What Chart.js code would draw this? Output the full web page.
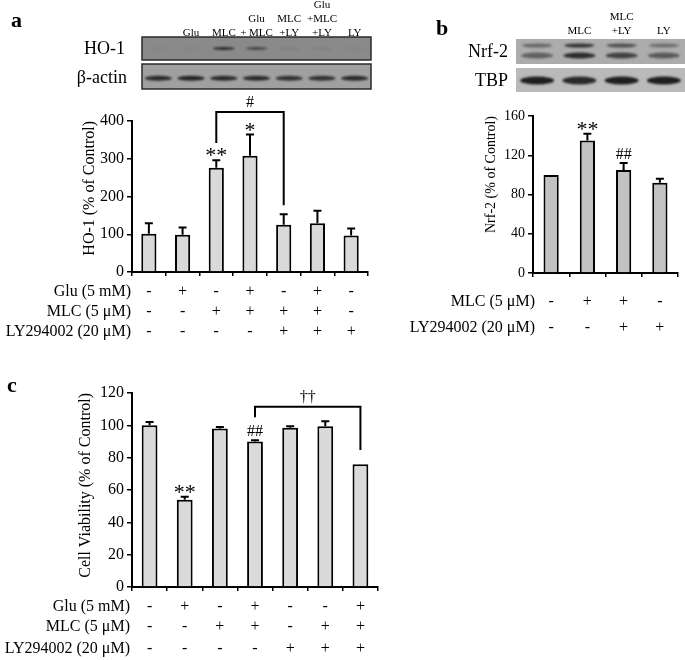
<!DOCTYPE html>
<html>
<head>
<meta charset="utf-8">
<script src="https://cdn.jsdelivr.net/npm/chart.js@4/dist/chart.umd.min.js"></script>
<style>
    body { margin: 0; background: #fff; }
    #fig { position: relative; width: 685px; height: 660px; overflow: hidden; font-family: "Liberation Serif", "Times New Roman", serif; color: #000; }
    #fig canvas { position: absolute; }
    .txt { position: absolute; white-space: nowrap; }
    .letter { font-weight: bold; font-size: 22px; line-height: 22px; }
    .rowname { font-size: 18px; line-height: 22px; text-align: right; }
    .lanes { position: absolute; top: 0; display: flex; align-items: flex-end; }
    .lanes div { flex: 1 1 0; width: 0; display: flex; justify-content: center; white-space: nowrap; text-align: center; font-size: 11px; line-height: 14px; }
    .lanes span { display: block; }
</style>
</head>
<body>
<div id="fig">
    <canvas id="blots" width="685" height="100" style="left:0;top:0"></canvas>

    <div class="txt letter" style="left:11px;top:9px">a</div>
    <div class="txt letter" style="left:436px;top:17px">b</div>
    <div class="txt letter" style="left:7px;top:374px">c</div>

    <div class="txt rowname" style="left:0;width:125px;top:37px">HO-1</div>
    <div class="txt rowname" style="left:0;width:127px;top:66px">β-actin</div>
    <div class="txt rowname" style="left:400px;width:108px;top:40px">Nrf-2</div>
    <div class="txt rowname" style="left:400px;width:108px;top:69px">TBP</div>

    <div class="lanes" style="left:142px;width:229px;height:39px">
        <div></div><div><span>Glu</span></div><div><span>MLC</span></div><div><span>Glu<br>+ MLC</span></div><div><span>MLC<br>+LY</span></div><div><span>Glu<br>+MLC<br>+LY</span></div><div><span>LY</span></div>
    </div>
    <div class="lanes" style="left:516px;width:169px;height:37px">
        <div></div><div><span>MLC</span></div><div><span>MLC<br>+LY</span></div><div><span>LY</span></div>
    </div>

    <canvas id="chartA" width="385" height="255" style="left:0;top:88px"></canvas>
    <canvas id="chartB" width="285" height="250" style="left:400px;top:95px"></canvas>
    <canvas id="chartC" width="400" height="280" style="left:0;top:380px"></canvas>
</div>

<script>
// ---- 數據 ----
// a: HO-1
const hoLabels = ['Control', 'Glu', 'MLC', 'Glu+MLC', 'MLC+LY', 'Glu+MLC+LY', 'LY'];
const hoValues = [101, 99, 276, 308, 125, 129, 97];
const hoErrors = [28, 19, 20, 56, 28, 33, 18];
const hoMarks = ['', '', '**', '*', '', '', ''];
const hoGlu = ['-', '+', '-', '+', '-', '+', '-'];
const hoMlc = ['-', '-', '+', '+', '+', '+', '-'];
const hoLy = ['-', '-', '-', '-', '+', '+', '+'];
const hoBracket = [2, 4, 424, 342, 177, '#'];   // from, to, top, left end, right end, label

// b: Nrf-2
const nrfLabels = ['Control', 'MLC', 'MLC+LY', 'LY'];
const nrfValues = [100, 135, 105, 92];
const nrfErrors = [0, 7, 7, 4];
const nrfMarks = ['', '**', '##', ''];
const nrfMlc = ['-', '+', '+', '-'];
const nrfLy = ['-', '-', '+', '+'];

// c: Cell viability
const cvLabels = ['Control', 'Glu', 'MLC', 'Glu+MLC', 'LY', 'MLC+LY', 'Glu+MLC+LY'];
const cvValues = [100, 54, 98, 90, 98.5, 99.5, 76];
const cvErrors = [2, 1.8, 1, 0.8, 1, 3, 0];
const cvMarks = ['', '**', '', '##', '', '', ''];
const cvGlu = ['-', '+', '-', '+', '-', '-', '+'];
const cvMlc = ['-', '-', '+', '+', '-', '+', '+'];
const cvLy = ['-', '-', '-', '-', '+', '+', '+'];
const cvBracket = [3, 6, 111.5, 105, 84.7, '††'];

// 條帶強度 (western blot)
const hoBands = [0.03, 0.03, 0.85, 0.6, 0.08, 0.06, 0.03];
const actinBands = [0.85, 0.9, 0.85, 0.85, 0.8, 0.8, 0.85];
const nrfUpperBands = [0.45, 0.8, 0.6, 0.4];
const nrfLowerBands = [0.5, 0.85, 0.7, 0.55];
const tbpBands = [0.95, 0.88, 0.95, 0.95];

const FONT = '"Liberation Serif", "Times New Roman", serif';

// ---- 畫 blot ----
function drawBlot(ctx, box, bg, border, bands, bandY, bandW, bandH) {
    ctx.save();
    ctx.fillStyle = bg;
    ctx.fillRect(box[0], box[1], box[2], box[3]);
    if (border) {
        ctx.strokeStyle = border;
        ctx.lineWidth = 1.5;
        ctx.strokeRect(box[0], box[1], box[2], box[3]);
    }
    const lane = box[2] / bands.length;
    ctx.filter = 'blur(1.2px)';
    ctx.fillStyle = '#161616';
    for (let i = 0; i < bands.length; i++) {
        ctx.globalAlpha = bands[i];
        ctx.beginPath();
        ctx.ellipse(box[0] + lane * (i + 0.5), bandY, bandW / 2, bandH / 2, 0, 0, Math.PI * 2);
        ctx.fill();
    }
    ctx.restore();
}

const bctx = document.getElementById('blots').getContext('2d');
drawBlot(bctx, [142, 37, 229, 23], '#8a8a8a', '#2a2a2a', hoBands, 48.5, 22, 3);
drawBlot(bctx, [142, 64, 229, 25], '#a0a0a0', '#2a2a2a', actinBands, 78.3, 27, 5);
drawBlot(bctx, [516, 39, 169, 25], '#acacac', null, nrfUpperBands, 45.5, 30, 4);
drawBlot(bctx, [516, 39, 169, 25], 'rgba(0,0,0,0)', null, nrfLowerBands, 55.5, 32, 6);
drawBlot(bctx, [516, 68, 169, 24], '#bababa', null, tbpBands, 80.5, 34, 8);

// ---- 誤差線、星號、括號與處理表 ----
const extrasPlugin = {
    id: 'extras',
    afterDatasetsDraw(chart, args, opts) {
        const ctx = chart.ctx;
        const meta = chart.getDatasetMeta(0);
        const y = chart.scales.y;
        const x = chart.scales.x;
        ctx.save();
        ctx.strokeStyle = '#000';
        ctx.fillStyle = '#000';
        ctx.lineWidth = 2;

        // 誤差線 (只向上)
        meta.data.forEach((bar, i) => {
            const e = opts.errors[i];
            if (!e) return;
            const yt = y.getPixelForValue(opts.values[i] + e);
            ctx.beginPath();
            ctx.moveTo(bar.x, bar.y);
            ctx.lineTo(bar.x, yt);
            ctx.moveTo(bar.x - 4, yt);
            ctx.lineTo(bar.x + 4, yt);
            ctx.stroke();
        });

        // 顯著性標記
        ctx.textAlign = 'center';
        ctx.textBaseline = 'alphabetic';
        meta.data.forEach((bar, i) => {
            const m = opts.marks[i];
            if (!m) return;
            const yt = y.getPixelForValue(opts.values[i] + opts.errors[i]);
            if (m[0] === '*') {
                ctx.font = '22px ' + FONT;
                ctx.fillText(m, bar.x, yt + 2);
            } else {
                ctx.font = '16px ' + FONT;
                ctx.fillText(m, bar.x, yt - 4);
            }
        });

        // 括號
        if (opts.bracket) {
            const [from, to, top, leftEnd, rightEnd, label] = opts.bracket;
            const x1 = meta.data[from].x;
            const x2 = meta.data[to].x;
            const yTop = y.getPixelForValue(top);
            ctx.beginPath();
            ctx.moveTo(x1, y.getPixelForValue(leftEnd));
            ctx.lineTo(x1, yTop);
            ctx.lineTo(x2, yTop);
            ctx.lineTo(x2, y.getPixelForValue(rightEnd));
            ctx.stroke();
            ctx.font = '16px ' + FONT;
            ctx.fillText(label, (x1 + x2) / 2, yTop - 5);
        }

        // 處理條件表
        ctx.textBaseline = 'middle';
        const bottom = chart.chartArea.bottom;
        opts.rows.forEach(row => {
            ctx.font = '16px ' + FONT;
            ctx.textAlign = 'right';
            ctx.fillText(row.label, chart.chartArea.left + opts.labelDx, bottom + row.dy);
            ctx.textAlign = 'center';
            row.signs.forEach((s, i) => {
                ctx.fillText(s, x.getPixelForValue(i), bottom + row.dy);
            });
        });
        ctx.restore();
    }
};

function createPanel(canvasId, p) {
    const ctx = document.getElementById(canvasId).getContext('2d');
    return new Chart(ctx, {
        type: 'bar',
        data: {
            labels: p.labels,
            datasets: [{
                data: p.values,
                backgroundColor: p.color,
                borderColor: '#000',
                borderWidth: 2,
                categoryPercentage: 1,
                barPercentage: p.barPct
            }]
        },
        options: {
            responsive: false,
            animation: false,
            layout: { padding: p.padding },
            plugins: {
                legend: { display: false },
                tooltip: { enabled: false },
                extras: {
                    values: p.values,
                    errors: p.errors,
                    marks: p.marks,
                    bracket: p.bracket,
                    rows: p.rows,
                    labelDx: p.labelDx
                }
            },
            scales: {
                x: {
                    grid: { display: true, drawOnChartArea: false, tickLength: 4, color: '#000', lineWidth: 1.5, offset: true },
                    border: { color: '#000', width: 2 },
                    ticks: { display: false },
                    afterFit: s => { s.height = 6; }
                },
                y: {
                    min: 0,
                    max: p.max,
                    grid: { display: true, drawOnChartArea: false, tickLength: 5, color: '#000', lineWidth: 1.5 },
                    border: { color: '#000', width: 2 },
                    ticks: {
                        stepSize: p.step,
                        padding: 3,
                        color: '#000',
                        font: { family: FONT, size: p.tickSize },
                        callback: v => (v % p.labelEvery === 0 ? v : '')
                    },
                    title: {
                        display: true,
                        text: p.title,
                        align: 'end',
                        color: '#000',
                        font: { family: FONT, size: p.titleSize },
                        padding: { top: 4, bottom: 4 }
                    },
                    afterFit: s => { s.width = p.yWidth; }
                }
            }
        },
        plugins: [extrasPlugin]
    });
}

createPanel('chartA', {
    labels: hoLabels, values: hoValues, errors: hoErrors, marks: hoMarks, bracket: hoBracket,
    color: '#d9d9d9', barPct: 0.45, max: 400, step: 100, labelEvery: 100,
    tickSize: 16, title: 'HO-1 (% of Control)', titleSize: 16,
    padding: { left: 76, right: 17, top: 33, bottom: 65 }, yWidth: 56,
    labelDx: -1,
    rows: [
        { label: 'Glu (5 mM)', signs: hoGlu, dy: 20 },
        { label: 'MLC (5 μM)', signs: hoMlc, dy: 40 },
        { label: 'LY294002 (20 μM)', signs: hoLy, dy: 60 }
    ]
});

createPanel('chartB', {
    labels: nrfLabels, values: nrfValues, errors: nrfErrors, marks: nrfMarks, bracket: null,
    color: '#c2c2c2', barPct: 0.42, max: 160, step: 20, labelEvery: 40,
    tickSize: 14, title: 'Nrf-2 (% of Control)', titleSize: 14,
    padding: { left: 79, right: 7, top: 21, bottom: 66 }, yWidth: 54,
    labelDx: 2,
    rows: [
        { label: 'MLC (5 μM)', signs: nrfMlc, dy: 29 },
        { label: 'LY294002 (20 μM)', signs: nrfLy, dy: 55 }
    ]
});

createPanel('chartC', {
    labels: cvLabels, values: cvValues, errors: cvErrors, marks: cvMarks, bracket: cvBracket,
    color: '#dadada', barPct: 0.45, max: 120, step: 20, labelEvery: 20,
    tickSize: 16, title: 'Cell Viability (% of Control)', titleSize: 16,
    padding: { left: 72, right: 22, top: 13, bottom: 67 }, yWidth: 60,
    labelDx: -2,
    rows: [
        { label: 'Glu (5 mM)', signs: cvGlu, dy: 20 },
        { label: 'MLC (5 μM)', signs: cvMlc, dy: 40 },
        { label: 'LY294002 (20 μM)', signs: cvLy, dy: 62 }
    ]
});
</script>
</body>
</html>
